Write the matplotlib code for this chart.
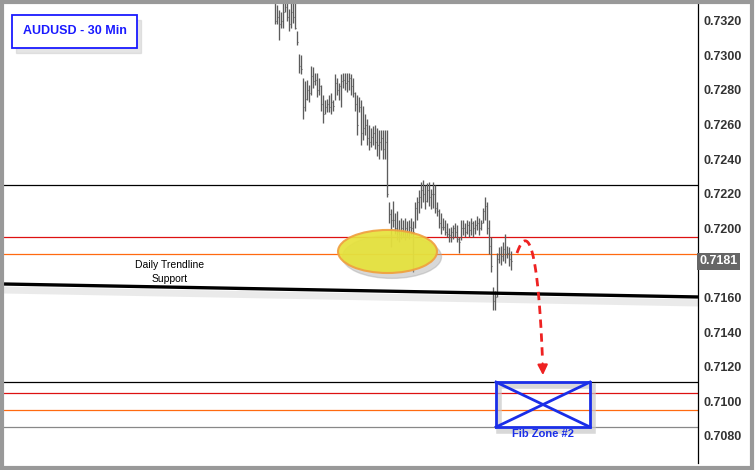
import numpy as np
import matplotlib
matplotlib.use("Agg")
import matplotlib.pyplot as plt
from matplotlib.patches import Ellipse, Rectangle

plt.rcParams['font.family'] = ['Liberation Sans', 'DejaVu Sans']

# AUDUSD 30 min bars
highs = [0.7334, 0.7329, 0.7326, 0.7325, 0.7330, 0.7334, 0.7334, 0.7327, 0.7334, 0.7331,
         0.7330, 0.7314, 0.7301, 0.7300, 0.7287, 0.7285, 0.7286, 0.7283, 0.7294, 0.7293,
         0.7290, 0.7290, 0.7287, 0.7283, 0.7277, 0.7274, 0.7275, 0.7277, 0.7278, 0.7274,
         0.7289, 0.7287, 0.7284, 0.7289, 0.7290, 0.7290, 0.7290, 0.7290, 0.7289, 0.7287,
         0.7279, 0.7277, 0.7276, 0.7274, 0.7271, 0.7266, 0.7263, 0.7260, 0.7258, 0.7259,
         0.7260, 0.7258, 0.7257, 0.7257, 0.7257, 0.7257, 0.7257, 0.7215, 0.7211, 0.7216,
         0.7209, 0.7210, 0.7205, 0.7206, 0.7205, 0.7206, 0.7204, 0.7205, 0.7206, 0.7204,
         0.7215, 0.7218, 0.7222, 0.7227, 0.7228, 0.7225, 0.7226, 0.7227, 0.7223, 0.7227,
         0.7225, 0.7215, 0.7211, 0.7209, 0.7206, 0.7205, 0.7203, 0.7200, 0.7201, 0.7202,
         0.7203, 0.7202, 0.7195, 0.7205, 0.7205, 0.7203, 0.7205, 0.7204, 0.7206, 0.7204,
         0.7205, 0.7207, 0.7206, 0.7205, 0.7212, 0.7218, 0.7215, 0.7205, 0.7195, 0.7166,
         0.7164, 0.7186, 0.7189, 0.7190, 0.7192, 0.7197, 0.7190, 0.7189, 0.7187]
lows = [0.7318, 0.7318, 0.7309, 0.7316, 0.7316, 0.7325, 0.7320, 0.7314, 0.7316, 0.7319,
        0.7315, 0.7306, 0.7290, 0.7289, 0.7263, 0.7268, 0.7274, 0.7273, 0.7277, 0.7281,
        0.7283, 0.7276, 0.7277, 0.7268, 0.7261, 0.7266, 0.7267, 0.7267, 0.7266, 0.7268,
        0.7274, 0.7277, 0.7274, 0.7270, 0.7281, 0.7280, 0.7279, 0.7280, 0.7277, 0.7276,
        0.7268, 0.7254, 0.7267, 0.7248, 0.7251, 0.7254, 0.7248, 0.7245, 0.7247, 0.7248,
        0.7246, 0.7242, 0.7240, 0.7245, 0.7240, 0.7240, 0.7218, 0.7203, 0.7189, 0.7201,
        0.7197, 0.7193, 0.7192, 0.7194, 0.7195, 0.7193, 0.7195, 0.7194, 0.7196, 0.7175,
        0.7200, 0.7205, 0.7209, 0.7212, 0.7215, 0.7211, 0.7215, 0.7213, 0.7211, 0.7212,
        0.7209, 0.7207, 0.7200, 0.7197, 0.7199, 0.7196, 0.7195, 0.7192, 0.7192, 0.7194,
        0.7195, 0.7192, 0.7186, 0.7193, 0.7196, 0.7195, 0.7197, 0.7195, 0.7196, 0.7195,
        0.7197, 0.7199, 0.7196, 0.7199, 0.7203, 0.7205, 0.7197, 0.7185, 0.7175, 0.7153,
        0.7153, 0.7160, 0.7180, 0.7179, 0.7181, 0.7180, 0.7183, 0.7178, 0.7176]
closes = [0.7320, 0.7322, 0.7318, 0.7320, 0.7325, 0.7328, 0.7322, 0.7318, 0.7325, 0.7322,
          0.7316, 0.7308, 0.7294, 0.7292, 0.7270, 0.7275, 0.7280, 0.7278, 0.7288, 0.7285,
          0.7286, 0.7280, 0.7282, 0.7272, 0.7266, 0.7270, 0.7272, 0.7270, 0.7273, 0.7271,
          0.7284, 0.7280, 0.7282, 0.7285, 0.7286, 0.7284, 0.7285, 0.7287, 0.7282, 0.7278,
          0.7272, 0.7260, 0.7270, 0.7255, 0.7258, 0.7260, 0.7252, 0.7250, 0.7253, 0.7255,
          0.7250, 0.7248, 0.7250, 0.7252, 0.7246, 0.7250, 0.7220, 0.7208, 0.7205, 0.7205,
          0.7200, 0.7198, 0.7196, 0.7200, 0.7198, 0.7200, 0.7198, 0.7201, 0.7200, 0.7198,
          0.7212, 0.7215, 0.7218, 0.7222, 0.7220, 0.7216, 0.7222, 0.7218, 0.7220, 0.7220,
          0.7212, 0.7210, 0.7203, 0.7201, 0.7201, 0.7198, 0.7197, 0.7196, 0.7198, 0.7200,
          0.7198, 0.7194, 0.7192, 0.7200, 0.7200, 0.7198, 0.7202, 0.7199, 0.7203, 0.7200,
          0.7202, 0.7203, 0.7200, 0.7203, 0.7210, 0.7213, 0.7200, 0.7190, 0.7178, 0.7158,
          0.7160, 0.7182, 0.7185, 0.7184, 0.7188, 0.7185, 0.7186, 0.7182, 0.7181]

ticks = [0.7080, 0.7100, 0.7120, 0.7140, 0.7160, 0.7200, 0.7220, 0.7240,
         0.7260, 0.7280, 0.7300, 0.7320]
last_price = 0.7181

# drawn levels
upper_levels = [(0.7225, 'black'), (0.7195, '#dd1111'), (0.7185, '#ff6a10')]
fib_levels = [(0.7111, 'black'), (0.7105, '#dd1111'), (0.7095, '#ff6a10'), (0.7085, '#888888')]
trend_start, trend_end = 0.71678, 0.71603

W, H = 755, 470
fig = plt.figure(figsize=(W / 100, H / 100), dpi=100)
ax = fig.add_axes([4 / W, 1 - 463 / H, 694 / W, 459 / H])
ax.set_xlim(-135.5, 211.5)
ax.set_ylim(0.70643, 0.73297)

x = np.arange(len(highs))
ax.vlines(x, lows, highs, color='#5c5c5c', lw=0.95, zorder=3)
ax.hlines(closes, x, x + 0.5, color='#5c5c5c', lw=0.8, zorder=3)

for lvl, c in upper_levels + fib_levels:
    ax.axhline(lvl, color=c, lw=0.9, zorder=2)

# trendline
ax.plot([-135.5, 211.5], [trend_start, trend_end], color='black', lw=2.4, zorder=4,
        solid_capstyle='butt')
ax.plot([-135.5, 211.5], [trend_start - 0.00035, trend_end - 0.00035], color='#dddddd',
        lw=5, alpha=0.6, zorder=1)
ax.text(-52.5, 0.71747, 'Daily Trendline\nSupport', ha='center', va='center',
        fontsize=7.5, linespacing=1.4, zorder=5)

# yellow ellipse with shadow
ax.add_patch(Ellipse((58.5, 0.71835), 49.5, 0.00249, color='#aaaaaa', alpha=0.45, zorder=4))
ax.add_patch(Ellipse((56.25, 0.71866), 49.5, 0.00249, facecolor='#e6e23a',
                     edgecolor='#f0a040', lw=1.5, alpha=0.92, zorder=5))

# curved dashed arrow
t = np.linspace(0, 0.97, 60)
P = np.array([[121, 0.71857], [125, 0.7199], [131.5, 0.7202], [134, 0.7116]])
bx = ((1 - t) ** 3 * P[0, 0] + 3 * (1 - t) ** 2 * t * P[1, 0]
      + 3 * (1 - t) * t ** 2 * P[2, 0] + t ** 3 * P[3, 0])
by = ((1 - t) ** 3 * P[0, 1] + 3 * (1 - t) ** 2 * t * P[1, 1]
      + 3 * (1 - t) * t ** 2 * P[2, 1] + t ** 3 * P[3, 1])
ax.plot(bx, by, color='#ee2222', lw=2, ls=(0, (3, 2)), zorder=6)
ax.annotate('', xy=(134, 0.71135), xytext=(bx[-1], by[-1]),
            arrowprops=dict(arrowstyle='-|>,head_length=0.6,head_width=0.3',
                            color='#ee2222', lw=1.5), zorder=6)

# Fib zone box
x0, x1, y0, y1 = 110.5, 157.5, 0.70851, 0.71111
ax.add_patch(Rectangle((x0 + 1.5, y0 - 0.00025), x1 - x0, y1 - y0, facecolor='none',
                       edgecolor='#c8c8c8', lw=4, alpha=0.7, zorder=4))
ax.add_patch(Rectangle((x0, y0), x1 - x0, y1 - y0, facecolor='none', edgecolor='#1a2ee8',
                       lw=2, zorder=6))
ax.plot([x0, x1], [y0, y1], color='#1a2ee8', lw=2, zorder=6)
ax.plot([x0, x1], [y1, y0], color='#1a2ee8', lw=2, zorder=6)
ax.text((x0 + x1) / 2, y0 - 0.0001, 'Fib Zone #2', ha='center', va='top', color='#1a2ee8',
        fontsize=8, fontweight='bold', zorder=6)

# axis
for s in ['top', 'left', 'bottom']:
    ax.spines[s].set_visible(False)
ax.spines['right'].set_linewidth(0.9)
ax.set_xticks([])
ax.yaxis.tick_right()
ax.set_yticks(ticks)
ax.set_yticklabels(['%.4f' % v for v in ticks], fontsize=9, fontweight='bold', color='#333333')
ax.tick_params(axis='y', length=0, pad=4)
ax.text(1.0015, last_price, '%.4f' % last_price, transform=ax.get_yaxis_transform(),
        ha='left', va='center', fontsize=9, fontweight='bold', color='white',
        bbox=dict(boxstyle='square,pad=0.2', fc='#666666', ec='none'), zorder=7)

# title box
fig.patches.append(Rectangle((16 / W, 1 - 53 / H), 125 / W, 33 / H, transform=fig.transFigure,
                             color='#cccccc', alpha=0.5, zorder=1))
fig.patches.append(Rectangle((12 / W, 1 - 48 / H), 125 / W, 33 / H, transform=fig.transFigure,
                             facecolor='white', edgecolor='#1a1aff', lw=1.3, zorder=2))
fig.text(74.5 / W, 1 - 31.5 / H, 'AUDUSD - 30 Min', ha='center', va='center',
         fontsize=9, fontweight='bold', color='#1a1aff', zorder=3)

# window frame
fig.patches.append(Rectangle((0.002, 0.004), 0.994, 0.992, transform=fig.transFigure,
                             facecolor='none', edgecolor='#999999', lw=3, zorder=10))

fig.savefig('out.png', dpi=100)
